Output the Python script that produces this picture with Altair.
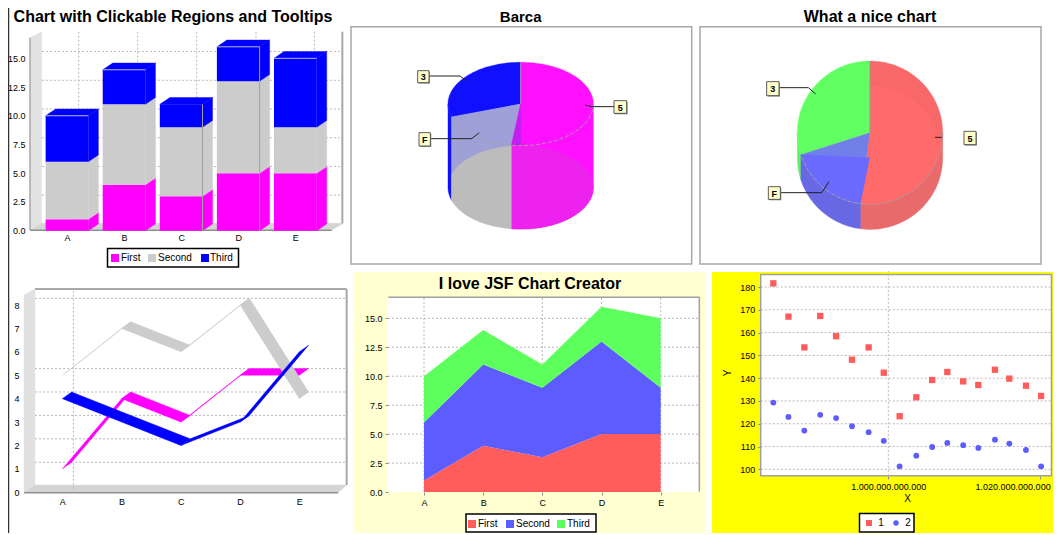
import math
import altair as alt
import pandas as pd

W, H = 1045, 525
CATS = ["A", "B", "C", "D", "E"]
FIRST = [1, 4, 3, 5, 5]
SECOND = [5, 7, 6, 8, 4]
THIRD = [4, 3, 2, 3, 6]
PIE_SHARES = [52, 18, 30]
PIE_LABELS = ["5", "F", "3"]
SCATTER_X = [984.8, 986.8, 988.9, 991.0, 993.1, 995.2, 997.4, 999.4, 1001.5,
             1003.7, 1005.8, 1007.8, 1009.9, 1011.9, 1014.1, 1016.0, 1018.2, 1020.2]
SCATTER_1 = [181.6, 167, 153.5, 167.3, 158.4, 148.1, 153.5, 142.4, 123.3,
             131.6, 139.2, 142.7, 138.6, 137, 143.7, 139.8, 136.7, 132.2]
SCATTER_2 = [129.3, 123, 117, 123.9, 122.5, 118.9, 116.3, 112.5, 101.3,
             106, 109.8, 111.6, 110.6, 109.4, 113, 111.3, 108.5, 101.3]

FONT = "Liberation Sans"
MAG, GRY, BLU = "#ff00ff", "#cccccc", "#0000ff"
RED2, BLU2, GRN2 = "#ff5c5c", "#5c5cff", "#5cff5c"
GRID = "#b8b8b8"
layers = []


def sc(dom, rng):
    return alt.Scale(domain=dom, range=rng, nice=False, zero=False)


PX_X = sc([0, W], [0, W])
PX_Y = sc([0, H], [0, H])


def poly(xs, ys, color, sx, sy):
    df = pd.DataFrame({"x": xs, "y": ys, "i": range(len(xs))})
    layers.append(alt.Chart(df).mark_line(fill=color, stroke=color, strokeWidth=0.4,
                                          interpolate="linear-closed").encode(
        x=alt.X("x:Q", scale=sx, axis=None), y=alt.Y("y:Q", scale=sy, axis=None),
        order="i:Q"))


def line(xs, ys, color, sx, sy, width=1, dash=None):
    df = pd.DataFrame({"x": xs, "y": ys, "i": range(len(xs))})
    kw = {"strokeDash": dash} if dash else {}
    layers.append(alt.Chart(df).mark_line(color=color, strokeWidth=width, **kw).encode(
        x=alt.X("x:Q", scale=sx, axis=None), y=alt.Y("y:Q", scale=sy, axis=None),
        order="i:Q"))


def pxpoly(pts, color, bx=0, by=0, k=3):
    poly([bx + p[0] / k - 8 for p in pts], [by + p[1] / k - 8 for p in pts], color, PX_X, PX_Y)


def pxline(pts, color, bx=0, by=0, width=1, dash=None, k=3):
    line([bx + p[0] / k - 8 for p in pts], [by + p[1] / k - 8 for p in pts], color, PX_X, PX_Y, width, dash)


def rect(x0, y0, x1, y1, fill, stroke=None, sw=1):
    kw = {"stroke": stroke, "strokeWidth": sw} if stroke else {}
    layers.append(alt.Chart(pd.DataFrame({"a": [0]})).mark_rect(fill=fill, **kw).encode(
        x=alt.value(x0 - 8), x2=alt.value(x1 - 8), y=alt.value(y0 - 8), y2=alt.value(y1 - 8)))


def text(x, y, s, size=9, bold=False, align="center", angle=0, color="black"):
    layers.append(alt.Chart(pd.DataFrame({"t": [s]})).mark_text(
        font=FONT, fontSize=size, fontWeight="bold" if bold else "normal", align=align,
        baseline="middle", angle=angle, color=color).encode(
        x=alt.value(x - 8), y=alt.value(y - 8), text="t:N"))


def axes(sx, sy, xaxis, yaxis, x0, y0):
    df = pd.DataFrame({"x": [x0], "y": [y0]})
    layers.append(alt.Chart(df).mark_point(opacity=0).encode(
        x=alt.X("x:Q", scale=sx, axis=xaxis), y=alt.Y("y:Q", scale=sy, axis=yaxis)))


def ax(orient, values, pos, pad, size=9, ticks=False, fmt=None, expr=None, bold=False, **extra):
    offset = -(pos - 8) if orient == "left" else -(H - (pos - 8))
    kw = dict(extra)
    if fmt:
        kw["format"] = fmt
    if expr:
        kw["labelExpr"] = expr
    return alt.Axis(orient=orient, values=values, offset=offset, title=None, grid=False, domain=False,
                    ticks=ticks, tickSize=3, tickColor="#909090", labelFont=FONT, labelFontSize=size,
                    labelColor="black", labelPadding=pad, labelOverlap=False, zindex=1,
                    labelFlush=False, labelBound=False,
                    labelFontWeight="bold" if bold else "normal", **kw)


CAT_EXPR = "['A','B','C','D','E'][datum.value]"
rect(8, 8, 1061, 535, "white")
pxline([(25.5, 1.5), (3180, 1.5)], "#333333", width=1.5)
pxline([(25.5, 0), (25.5, 1600)], "#333333", width=1.5)

# ---------- Panel 1: stacked 3D bars
sx = sc([0, 4], [201 / 3 - 8, 886 / 3 - 8])
sy = sc([0, 15], [230.7 - 8, 58.3 - 8])
pxpoly([(90, 113), (125, 95), (125, 670), (90, 690)], "#e2e2e2")
pxpoly([(90, 690), (125, 670), (1030, 670), (995, 690)], "#d4d4d4")
pxline([(90, 113), (90, 690)], "#a8a8a8", width=1.5)
pxline([(1027, 95), (1027, 670)], "#a8a8a8", width=2)
pxline([(90, 691), (995, 691)], "#909090", width=1.5)
DX, DY = 30 / 171, 20 / 34
for v in [2.5, 5, 7.5, 10, 12.5, 15]:
    line([-0.44, 4.82], [v + DY, v + DY], GRID, sx, sy, 1, [2, 2])
for z in [236, 413, 590, 768, 943]:
    pxline([(z, 95), (z, 670)], GRID, dash=[2, 2])
HALF = 64 / 171
for i in range(5):
    lo = 0
    for vals, col in [(FIRST, MAG), (SECOND, GRY), (THIRD, BLU)]:
        hi = lo + vals[i]
        layers.append(alt.Chart(pd.DataFrame({"x": [i - HALF], "x2": [i + HALF], "y": [lo], "y2": [hi]}))
                      .mark_rect(color=col).encode(
            x=alt.X("x:Q", scale=sx, axis=None), x2="x2:Q",
            y=alt.Y("y:Q", scale=sy, axis=None), y2="y2:Q"))
        r = i + HALF
        poly([r, r + DX, r + DX, r], [lo, lo + DY, hi + DY, hi], col, sx, sy)
        lo = hi
    l, r = i - HALF, i + HALF
    poly([l, r, r + DX, l + DX], [lo, lo, lo + DY, lo + DY], BLU, sx, sy)
    if i in (0, 1, 3, 4):
        line([l, r], [lo, lo], "#b0b0d0", sx, sy, 1)
    if i in (2, 3):
        line([r, r], [0, lo], "#a0a0a0", sx, sy, 1)
axes(sx, sy, ax("bottom", list(range(5)), 231, 2, expr=CAT_EXPR),
     ax("left", [0, 2.5, 5, 7.5, 10, 12.5, 15], 30, 5, fmt=".1f"), 0, 0)
text(173, 17, "Chart with Clickable Regions and Tooltips", 16, True)
rect(107.5, 248.5, 238.5, 267, "white", "black", 1.5)
for xq, xt, c, s in [(111, 121, MAG, "First"), (148, 158, GRY, "Second"), (201, 210, BLU, "Third")]:
    rect(xq, 254, xq + 8, 262, c)
    text(xt, 258, s, 10, align="left")


# ---------- Pie helpers
def pt(t, c=0.0):
    a = math.radians(t)
    return math.sin(a), c + math.cos(a)


def arc(t0, t1, c=0.0, n=48):
    return [pt(t0 + (t1 - t0) * k / n, c) for k in range(n + 1)]


total = sum(PIE_SHARES)
A1 = 360 * PIE_SHARES[0] / total
A2 = A1 + 360 * PIE_SHARES[1] / total


def P(pts, color, sx, sy):
    poly([p[0] for p in pts], [p[1] for p in pts], color, sx, sy)


def L(pts, color, sx, sy, width=1, dash=None):
    line([p[0] for p in pts], [p[1] for p in pts], color, sx, sy, width, dash)


def callout(bx, box, leader, label):
    x0, y0, x1, y1 = box
    pxline(leader, "#222222", bx=bx, width=1)
    rect(bx + x0 / 3 + 1, y0 / 3 + 1, bx + x1 / 3 + 1, y1 / 3 + 1, "#999999")
    rect(bx + x0 / 3, y0 / 3, bx + x1 / 3, y1 / 3, "#ffffcc", "#333333", 0.8)
    text(bx + (x0 + x1) / 6, (y0 + y1) / 6 + 0.5, label, 9, True)


# ---------- Panel 2: Barca (tall pie)
rect(351, 26.7, 691.7, 264, "white", "#a8a8a8", 1.5)
text(520.7, 16.5, "Barca", 15, True)
sx = sc([-1, 1], [350 + 294 / 3 - 8, 350 + 730 / 3 - 8])
sy = sc([-1, 1], [104 + 41.7 - 8, 104 - 41.7 - 8])
D = 2.0
P(arc(A2, 270) + arc(270, A2, -D), "#1010ff", sx, sy)
P([(0, 0)] + arc(A2, 360), "#1010ff", sx, sy)
P([(0, 0), pt(A2), pt(A2, -D), pt(A1, -D), pt(A1)], "#a0a0d8", sx, sy)
P([(0, 0)] + arc(0, 90) + arc(90, A1, -D) + [pt(A1)], "#ff10ff", sx, sy)
P([(0, 0), pt(A1), pt(180)], "#c020f0", sx, sy)
P(arc(A1, A2, -D) + arc((180 - A2) % 360, (180 - A1) % 360, -D), "#bcbcbc", sx, sy)
P(arc(90, A1, -D) + arc((180 - A1) % 360, 450, -D), "#ee22ee", sx, sy)
L(arc(90, A2), "#a0a0a0", sx, sy, 1, [4, 2])
L([pt(A1, 0), pt(A1, -D)], "#a0a0a0", sx, sy, 1)
L([(0, 0), pt(0)], "#a0a0a0", sx, sy, 0.8)
callout(350, (203, 212, 237, 248), [(237, 228), (330, 228), (350, 243)], PIE_LABELS[2])
callout(350, (207, 398, 241, 438), [(241, 416), (365, 416), (388, 398)], PIE_LABELS[1])
callout(350, (792, 302, 830, 340), [(792, 320), (725, 320), (705, 315)], PIE_LABELS[0])

# ---------- Panel 3: What a nice chart
rect(700, 26.7, 1041, 264, "white", "#a8a8a8", 1.5)
text(870, 16.5, "What a nice chart", 16, True)
sx = sc([-1, 1], [700 + 292 / 3 - 8, 700 + 728 / 3 - 8])
sy = sc([-1, 1], [132.7 + 71.7 - 8, 132.7 - 71.7 - 8])
D = 75 / 215


def clamped(pts):
    out = []
    for x, y in pts:
        out.append((x, max(y, -math.sqrt(max(0, 1 - x * x)))))
    return out


P(arc(A2, 270) + arc(270, A2, -D), "#60f060", sx, sy)
P(arc(A1, A2) + arc(A2, A1, -D), "#6868e4", sx, sy)
P(arc(90, A1) + arc(A1, 90, -D), "#e86a6a", sx, sy)
P([(0, 0)] + arc(A2, 360), "#62ff62", sx, sy)
P([(0, 0)] + arc(A1, A2), "#7080e8", sx, sy)
P([(0, 0)] + arc(0, A1), "#f86868", sx, sy)
P(clamped([(0, -D)] + arc(A1, A2, -D)), "#6a6aff", sx, sy)
P(clamped([(0, -D)] + arc(0, A1, -D)), "#ff6a6a", sx, sy)
L(arc(90, A2), "#a0a0a0", sx, sy, 1, [4, 2])
L([(0, 0), pt(0)], "#a0a0a0", sx, sy, 0.8)
callout(700, (200, 245, 237, 287), [(237, 263), (325, 263), (347, 282)], PIE_LABELS[2])
callout(700, (205, 560, 241, 598), [(241, 578), (365, 578), (387, 545)], PIE_LABELS[1])
callout(700, (792, 394, 828, 434), [(725, 412), (705, 412)], PIE_LABELS[0])

# ---------- Panel 4: 3D ribbons
B4 = 265
sx = sc([0, 4], [187 / 3 - 8, 898 / 3 - 8])
sy = sc([0, 8], [B4 + 682 / 3 - 8, B4 + 120 / 3 - 8])
pxpoly([(72, 90), (105, 72), (105, 660), (72, 682)], "#e0e0e0", by=B4)
pxpoly([(72, 682), (105, 660), (1040, 660), (1015, 682)], "#d4d4d4", by=B4)
pxline([(105, 72), (1040, 72)], "#a8a8a8", by=B4, width=2)
pxline([(1040, 72), (1040, 660)], "#a8a8a8", by=B4, width=2)
pxline([(72, 683), (1015, 683)], "#909090", by=B4, width=1.5)
RX, RY = 28 / 178, 20 / 70.2
for v in [1, 2, 3, 4, 5, 8]:
    line([-0.46, 4.8], [v + RY, v + RY], GRID, sx, sy, 1, [2, 2])
line([RX + 0.03, RX + 0.03], [-0.3 + RY, 8.6], GRID, sx, sy, 1, [2, 2])
for vals, col in [(FIRST, MAG), (SECOND, GRY), (THIRD, BLU)]:
    for i in range(4):
        a, b = vals[i], vals[i + 1]
        poly([i, i + 1, i + 1 + RX, i + RX], [a, b, b + RY, a + RY], col, sx, sy)
axes(sx, sy, ax("bottom", list(range(5)), B4 + 683 / 3, 5, expr=CAT_EXPR),
     ax("left", list(range(9)), 24, 5), 0, 0)

# ---------- Panel 5: stacked area
rect(354, 272, 705, 535, "#ffffd2")
rect(388, 297, 699, 492, "white")
pxline([(115, 97), (1048, 97)], "#a0a0a0", bx=350, by=265, width=1.5)
pxline([(1048, 97), (1048, 680)], "#a0a0a0", bx=350, by=265, width=1.5)
sx = sc([0, 4], [424 - 8, 660.7 - 8])
sy = sc([0, 15], [492 - 8, 318.3 - 8])
XW0, XW1 = (388 - 424) / 59.18, (699 - 424) / 59.18
for v in [2.5, 5, 7.5, 10, 12.5, 15]:
    line([XW0, XW1], [v, v], GRID, sx, sy, 1, [2, 2])
for c in [0, 2, 3, 4]:
    line([c, c], [0, 16.8], GRID, sx, sy, 1, [2, 2])
low = [0] * 5
for vals, col in [(FIRST, RED2), (SECOND, BLU2), (THIRD, GRN2)]:
    high = [a + b for a, b in zip(low, vals)]
    df = pd.DataFrame({"x": range(5), "lo": low, "hi": high})
    layers.append(alt.Chart(df).mark_area(color=col, opacity=1).encode(
        x=alt.X("x:Q", scale=sx, axis=None), y=alt.Y("hi:Q", scale=sy, axis=None), y2="lo:Q"))
    low = high
axes(sx, sy, ax("bottom", list(range(5)), 492, 3, ticks=True, expr=CAT_EXPR),
     ax("left", [0, 2.5, 5, 7.5, 10, 12.5, 15], 388, 3, ticks=True, fmt=".1f"), 0, 0)
text(530, 284, "I love JSF Chart Creator", 16, True)
rect(466, 514, 596, 532, "white", "black", 1.5)
for xq, xt, c, s in [(468, 478, RED2, "First"), (506, 516, BLU2, "Second"), (557, 567, GRN2, "Third")]:
    rect(xq, 520, xq + 8, 528, c)
    text(xt, 524, s, 10, align="left")

# ---------- Panel 6: scatter
PLOT_R = 1051.5
rect(712, 272, 1060, 533, "#ffff00")
rect(760.7, 274.5, PLOT_R, 475.7, "white", "#a0a0a0", 1.5)
sx = sc([1e12, 1.02e12], [888.3 - 8, 1039.6 - 8])
sy = sc([100, 180], [B4 + 613 / 3 - 8, B4 + 66 / 3 - 8])
XL0 = 1e12 + (760.7 - 888.3) / 151.3 * 2e10
XL1 = 1e12 + (PLOT_R - 888.3) / 151.3 * 2e10
for v in range(100, 181, 10):
    line([XL0, XL1], [v, v], GRID, sx, sy, 1, [2, 2])
line([1e12, 1e12], [97, 187], GRID, sx, sy, 1, [2, 2])
xs = [v * 1e9 for v in SCATTER_X]
layers.append(alt.Chart(pd.DataFrame({"x": xs, "y": SCATTER_1})).mark_square(size=40, color=RED2, opacity=1).encode(
    x=alt.X("x:Q", scale=sx, axis=None), y=alt.Y("y:Q", scale=sy, axis=None)))
layers.append(alt.Chart(pd.DataFrame({"x": xs, "y": SCATTER_2})).mark_circle(size=34, color=BLU2, opacity=1).encode(
    x=alt.X("x:Q", scale=sx, axis=None), y=alt.Y("y:Q", scale=sy, axis=None)))
axes(sx, sy, ax("bottom", [1e12, 1.02e12], 476, 3, ticks=True,
                expr="replace(format(datum.value, ',.0f'), /,/g, '.')",
                labelOffset={"condition": {"test": "datum.value > 1.01e12", "value": -27}, "value": 0}),
     ax("left", list(range(100, 181, 10)), 760.7, 3, ticks=True), 1e12, 100)
text(907.7, 499, "X", 10)
text(728, 373, "Y", 10, angle=270)
rect(859.5, 513.5, 914, 532, "white", "black", 1.5)
rect(866, 520, 872, 526, RED2)
text(881, 523, "1", 10)
layers.append(alt.Chart(pd.DataFrame({"a": [0]})).mark_circle(size=30, color=BLU2, opacity=1).encode(
    x=alt.value(896 - 8), y=alt.value(523 - 8)))
text(908, 523, "2", 10)

chart = alt.layer(*layers).resolve_scale(x="independent", y="independent").properties(
    width=W, height=H, padding=0, autosize=alt.AutoSizeParams(type="none"), background="white"
).configure_view(stroke=None)
chart.save("out.html", embed_options={"renderer": "svg", "actions": False})
